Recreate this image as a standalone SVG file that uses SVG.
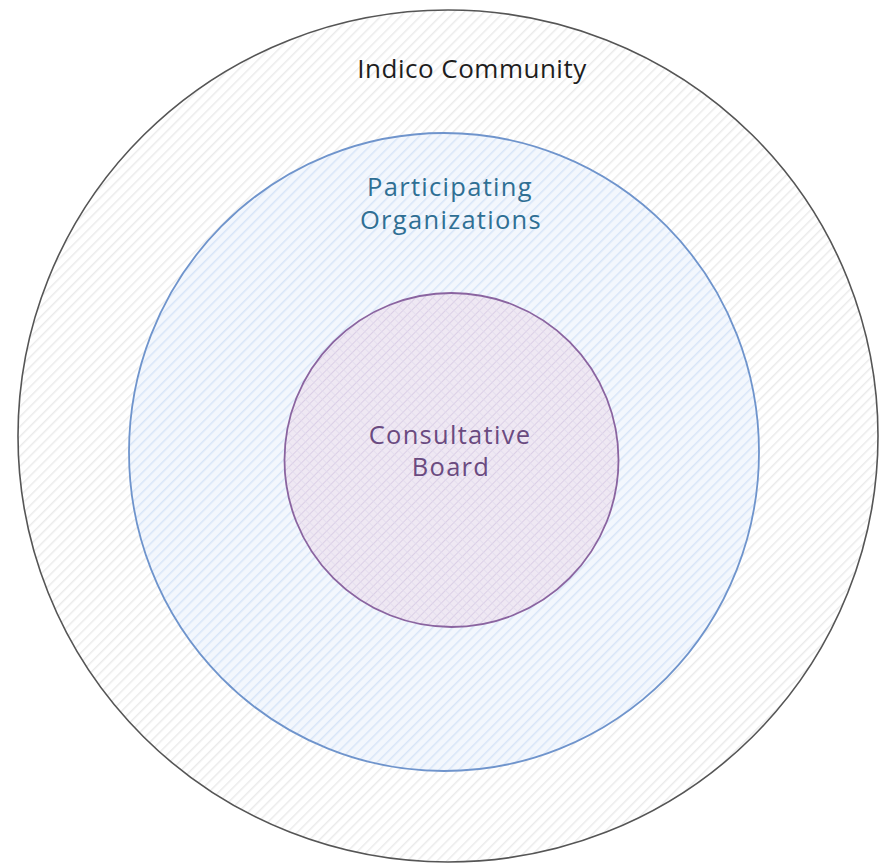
<svg xmlns="http://www.w3.org/2000/svg" width="879" height="865" viewBox="0 0 879 865">
<style>
.lbl{font-family:"Open Sans","Noto Sans","Liberation Sans",sans-serif;text-anchor:middle;}
.in{font-size:25.5px;letter-spacing:1.3px;}
</style>
<defs>
<pattern id="hGray" patternUnits="userSpaceOnUse" width="7" height="7" patternTransform="rotate(45)">
<rect width="7" height="7" fill="#ffffff"/>
<line x1="0" y1="0" x2="0" y2="7" stroke="#ebebeb" stroke-width="3"/>
</pattern>
<pattern id="hBlue" patternUnits="userSpaceOnUse" width="7" height="7" patternTransform="rotate(45)">
<rect width="7" height="7" fill="#f3f7fd"/>
<line x1="0" y1="0" x2="0" y2="7" stroke="#d8e5f8" stroke-width="3"/>
</pattern>
<pattern id="hPurple" patternUnits="userSpaceOnUse" width="6" height="6" patternTransform="rotate(45)">
<rect width="6" height="6" fill="#efe8f3"/>
<line x1="0" y1="0" x2="0" y2="6" stroke="#dbcfe6" stroke-width="2"/>
<line x1="0" y1="0" x2="6" y2="0" stroke="#e2dcee" stroke-width="1.5"/>
</pattern>
</defs>
<rect width="879" height="865" fill="#ffffff"/>
<g id="community">
<ellipse cx="448" cy="436" rx="430" ry="426" fill="url(#hGray)" stroke="#555555" stroke-width="1.6"/>
<text class="lbl" x="472" y="78" font-size="26" letter-spacing="0.5" fill="#1e1e1e">Indico Community</text>
</g>
<g id="organizations">
<ellipse cx="444" cy="452" rx="315" ry="319" fill="url(#hBlue)" stroke="#6f94cc" stroke-width="1.8"/>
<text class="lbl in" x="450" y="196" fill="#2f6f94">Participating</text>
<text class="lbl in" x="451" y="229" fill="#2f6f94">Organizations</text>
</g>
<g id="board">
<circle cx="451.5" cy="460" r="167" fill="url(#hPurple)" stroke="#8a64a0" stroke-width="1.8"/>
<text class="lbl in" x="450" y="444" fill="#6a4a80">Consultative</text>
<text class="lbl in" x="451" y="476" fill="#6a4a80">Board</text>
</g>
<g id="connectors"></g>
</svg>
